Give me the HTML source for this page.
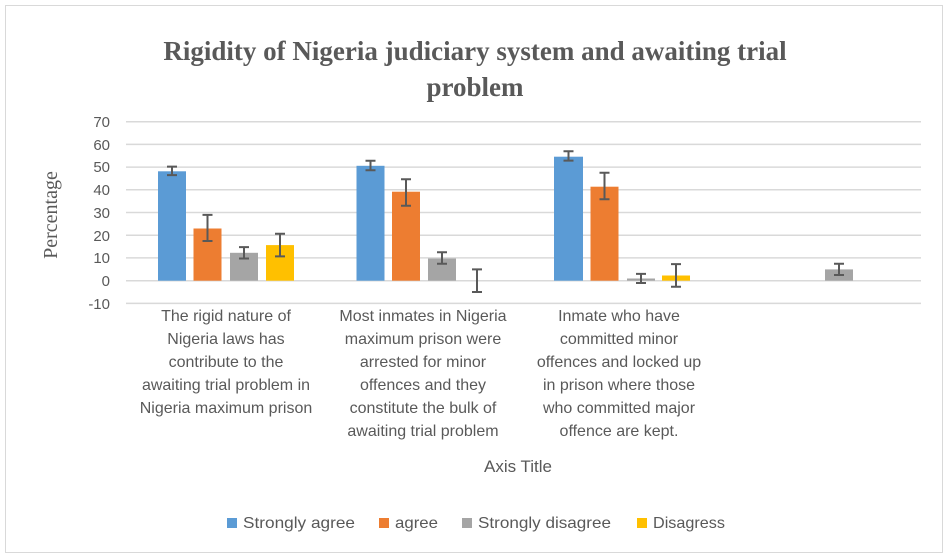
<!DOCTYPE html>
<html><head><meta charset="utf-8"><style>
body{margin:0;background:#fff;}
svg{display:block;}
</style></head><body>
<svg width="949" height="559" xmlns="http://www.w3.org/2000/svg" font-family="Liberation Sans, sans-serif">
<rect x="0" y="0" width="949" height="559" fill="#fff"/>
<rect x="5.5" y="5.5" width="937" height="547" fill="none" stroke="#d9d9d9"/>
<text x="475" y="60" text-anchor="middle" font-family="Liberation Serif, serif" font-weight="bold" font-size="27" fill="#595959">Rigidity of Nigeria judiciary system and awaiting trial</text>
<text x="475" y="96" text-anchor="middle" font-family="Liberation Serif, serif" font-weight="bold" font-size="27" fill="#595959">problem</text>
<g stroke="#d9d9d9" stroke-width="1.5">
<line x1="126" x2="921" y1="121.7" y2="121.7"/><line x1="126" x2="921" y1="144.4" y2="144.4"/>
<line x1="126" x2="921" y1="167.1" y2="167.1"/><line x1="126" x2="921" y1="189.8" y2="189.8"/>
<line x1="126" x2="921" y1="212.5" y2="212.5"/><line x1="126" x2="921" y1="235.2" y2="235.2"/>
<line x1="126" x2="921" y1="257.9" y2="257.9"/><line x1="126" x2="921" y1="280.7" y2="280.7"/>
<line x1="126" x2="921" y1="303.4" y2="303.4"/>
</g>
<g font-size="15" fill="#595959" text-anchor="end">
<text x="110" y="127">70</text><text x="110" y="150">60</text><text x="110" y="172">50</text>
<text x="110" y="195">40</text><text x="110" y="218">30</text><text x="110" y="241">20</text>
<text x="110" y="263">10</text><text x="110" y="286">0</text><text x="110" y="309">-10</text>
</g>
<text transform="translate(57,215) rotate(-90)" text-anchor="middle" font-family="Liberation Serif, serif" font-size="20" fill="#595959">Percentage</text>
<g>
<rect x="158" y="171.3" width="28" height="109.4" fill="#5b9bd5"/>
<rect x="193.5" y="228.5" width="28" height="52.2" fill="#ed7d31"/>
<rect x="230" y="252.8" width="28" height="27.9" fill="#a5a5a5"/>
<rect x="266" y="245.1" width="28" height="35.6" fill="#ffc000"/>
<rect x="356.5" y="165.8" width="28" height="114.9" fill="#5b9bd5"/>
<rect x="392" y="191.7" width="28" height="89" fill="#ed7d31"/>
<rect x="428" y="258.5" width="28" height="22.2" fill="#a5a5a5"/>
<rect x="554" y="156.7" width="29" height="124" fill="#5b9bd5"/>
<rect x="590.5" y="186.7" width="28" height="94" fill="#ed7d31"/>
<rect x="627" y="278.5" width="28" height="2.2" fill="#a5a5a5"/>
<rect x="662" y="275.5" width="28" height="5.2" fill="#ffc000"/>
<rect x="825" y="269.4" width="28" height="11.3" fill="#a5a5a5"/>
</g>
<g stroke="#595959" stroke-width="2" fill="none">
<path d="M172 166.6V175.1M167 166.6h10M167 175.1h10"/>
<path d="M207.5 214.9V241M202.5 214.9h10M202.5 241h10"/>
<path d="M244 247.1V258.5M239 247.1h10M239 258.5h10"/>
<path d="M280 233.7V256.4M275 233.7h10M275 256.4h10"/>
<path d="M370.5 160.8V170.2M365.5 160.8h10M365.5 170.2h10"/>
<path d="M406 179.2V205.8M401 179.2h10M401 205.8h10"/>
<path d="M442 252.3V263.7M437 252.3h10M437 263.7h10"/>
<path d="M477 269.4V292M472 269.4h10M472 292h10"/>
<path d="M568.5 151.3V160.6M563.5 151.3h10M563.5 160.6h10"/>
<path d="M604.5 172.7V199.3M599.5 172.7h10M599.5 199.3h10"/>
<path d="M641 273.9V283M636 273.9h10M636 283h10"/>
<path d="M676 264.1V286.8M671 264.1h10M671 286.8h10"/>
<path d="M839 263.7V275M834 263.7h10M834 275h10"/>
</g>
<g font-size="16" fill="#595959" text-anchor="middle">
<text x="226" y="321">The rigid nature of</text><text x="226" y="344">Nigeria laws has</text>
<text x="226" y="367">contribute to the</text><text x="226" y="390">awaiting trial problem in</text>
<text x="226" y="413">Nigeria maximum prison</text>
<text x="423" y="321">Most inmates in Nigeria</text><text x="423" y="344">maximum prison were</text>
<text x="423" y="367">arrested for minor</text><text x="423" y="390">offences and they</text>
<text x="423" y="413">constitute the bulk of</text><text x="423" y="436">awaiting trial problem</text>
<text x="619" y="321">Inmate who have</text><text x="619" y="344">committed minor</text>
<text x="619" y="367">offences and locked up</text><text x="619" y="390">in prison where those</text>
<text x="619" y="413">who committed major</text><text x="619" y="436">offence are kept.</text>
<text x="518" y="472" font-size="17">Axis Title</text>
</g>
<g font-size="16" fill="#595959">
<rect x="227" y="518" width="10" height="10" fill="#5b9bd5"/><text x="243" y="528" textLength="112" lengthAdjust="spacingAndGlyphs">Strongly agree</text>
<rect x="379" y="518" width="10" height="10" fill="#ed7d31"/><text x="395" y="528" textLength="43" lengthAdjust="spacingAndGlyphs">agree</text>
<rect x="462" y="518" width="10" height="10" fill="#a5a5a5"/><text x="478" y="528" textLength="133" lengthAdjust="spacingAndGlyphs">Strongly disagree</text>
<rect x="637" y="518" width="10" height="10" fill="#ffc000"/><text x="653" y="528" textLength="72" lengthAdjust="spacingAndGlyphs">Disagress</text>
</g>
</svg>
</body></html>
